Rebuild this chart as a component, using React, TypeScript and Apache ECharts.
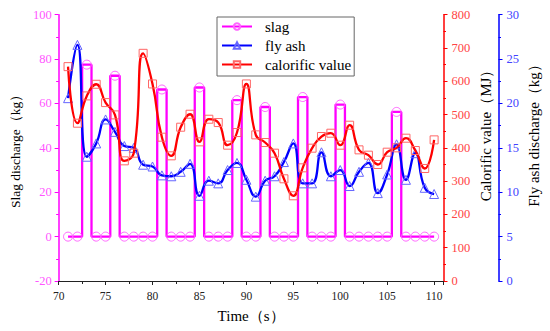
import React, { useEffect, useRef } from "react";
import * as echarts from "echarts";

const seconds = [71, 72, 73, 74, 75, 76, 77, 78, 79, 80, 81, 82, 83, 84, 85, 86, 87, 88, 89, 90, 91, 92, 93, 94, 95, 96, 97, 98, 99, 100, 101, 102, 103, 104, 105, 106, 107, 108, 109, 110];
const slag = [0, 0, 77.5, 0, 0, 72.5, 0, 0, 0, 0, 66.3, 0, 0, 0, 67.2, 0, 0, 0, 61.5, 0, 0, 58.4, 0, 0, 0, 62.9, 0, 0, 0, 59.5, 0, 0, 0, 0, 0, 56.2, 0, 0, 0, 0];
const flyAsh = [20.6, 26.6, 14.0, 15.5, 18.2, 16.8, 15.2, 15.0, 13.1, 12.9, 11.9, 11.8, 12.3, 13.2, 9.6, 11.3, 11.0, 12.5, 13.3, 11.4, 9.5, 11.3, 11.8, 13.4, 15.5, 11.0, 11.0, 14.5, 11.8, 12.5, 10.7, 12.3, 13.3, 9.9, 12.0, 15.4, 11.4, 14.4, 10.5, 9.8];
const calorific = [644, 474, 556, 591, 536, 499, 361, 384, 684, 592, 432, 376, 462, 501, 418, 486, 476, 408, 446, 592, 439, 416, 384, 307, 256, 340, 399, 434, 444, 408, 468, 394, 378, 350, 387, 400, 429, 392, 338, 424];

const seriesNames = ["slag", "fly ash", "calorific value"];
const xTitle = "Time（s）";
const slagTitle = "Slag discharge（kg）";
const calTitle = "Calorific value（MJ）";
const ashTitle = "Fly ash discharge（kg）";

const SERIF = "Liberation Serif";

export default function App() {
  const ref = useRef<HTMLDivElement>(null);
  useEffect(() => {
    if (!ref.current) return;
    const chart = echarts.init(ref.current, undefined, { renderer: "svg" });
    const pairs = (ys: number[]) => seconds.map((x, i) => [x, ys[i]]);
    chart.setOption({
      animation: false,
      backgroundColor: "#ffffff",
      textStyle: { fontFamily: SERIF },
      grid: { left: 46.5, right: 106.5, top: 14.7, bottom: 50 },
      legend: {
        orient: "vertical",
        left: 217,
        top: 17,
        padding: [2, 3, 4, 4],
        itemWidth: 30,
        itemHeight: 8,
        itemGap: 4,
        borderColor: "#666666",
        borderWidth: 1,
        textStyle: { fontFamily: SERIF, fontSize: 15, color: "#000", padding: [0, 0, 0, 8], lineHeight: 14 },
        data: seriesNames,
      },
      xAxis: {
        type: "value",
        min: 70,
        max: 111,
        interval: 5,
        name: xTitle,
        nameLocation: "middle",
        nameGap: 27,
        nameTextStyle: { fontFamily: SERIF, fontSize: 15, color: "#000" },
        axisLine: { onZero: false, lineStyle: { color: "#222", width: 1.2 } },
        axisTick: { length: 4, lineStyle: { color: "#222" } },
        minorTick: { show: true, splitNumber: 2, length: 3, lineStyle: { color: "#222" } },
        splitLine: { show: false },
        axisLabel: {
          fontFamily: SERIF,
          fontSize: 11.5,
          color: "#222",
          margin: 9,
          showMaxLabel: false,
          formatter: (v: number) => (v % 5 === 0 ? String(v) : ""),
        },
      },
      yAxis: [
        {
          type: "value",
          min: -20,
          max: 100,
          interval: 20,
          position: "left",
          name: slagTitle,
          nameLocation: "middle",
          nameGap: 27,
          nameRotate: 90,
          nameTextStyle: { fontFamily: SERIF, fontSize: 13.5, color: "#000" },
          axisLine: { show: true, lineStyle: { color: "#ff00ff", width: 1.5 } },
          axisTick: { show: true, length: 4, lineStyle: { color: "#ff00ff" } },
          minorTick: { show: true, splitNumber: 2, length: 2.5, lineStyle: { color: "#ff00ff" } },
          splitLine: { show: false },
          axisLabel: { fontFamily: SERIF, fontSize: 12.5, color: "#ff55ff", margin: 7 },
        },
        {
          type: "value",
          min: 0,
          max: 800,
          interval: 100,
          position: "right",
          offset: 0,
          axisLine: { show: true, lineStyle: { color: "#ff0000", width: 1.5 } },
          axisTick: { show: true, length: 4, lineStyle: { color: "#ff0000" } },
          minorTick: { show: true, splitNumber: 2, length: 2.5, lineStyle: { color: "#ff0000" } },
          splitLine: { show: false },
          axisLabel: { fontFamily: SERIF, fontSize: 12.5, color: "#ff4444", margin: 8 },
        },
        {
          type: "value",
          min: 0,
          max: 30,
          interval: 5,
          position: "right",
          offset: 55,
          axisLine: { show: true, lineStyle: { color: "#0000ff", width: 1.5 } },
          axisTick: { show: true, length: 4, lineStyle: { color: "#0000ff" } },
          minorTick: { show: true, splitNumber: 2, length: 2.5, lineStyle: { color: "#0000ff" } },
          splitLine: { show: false },
          axisLabel: { fontFamily: SERIF, fontSize: 12.5, color: "#4444ff", margin: 8 },
        },
      ],
      graphic: [
        {
          type: "text",
          x: 486,
          y: 132,
          rotation: Math.PI / 2,
          style: { text: calTitle, align: "center", verticalAlign: "middle", fontFamily: SERIF, fontSize: 15, fill: "#000" },
        },
        {
          type: "text",
          x: 533.5,
          y: 132,
          rotation: Math.PI / 2,
          style: { text: ashTitle, align: "center", verticalAlign: "middle", fontFamily: SERIF, fontSize: 15, fill: "#000" },
        },
      ],
      series: [
        {
          name: seriesNames[0],
          type: "line",
          step: "middle",
          yAxisIndex: 0,
          data: pairs(slag),
          color: "#ff00ff",
          lineStyle: { color: "#ff00ff", width: 2.3 },
          symbol: "circle",
          symbolSize: 9,
          itemStyle: { color: "rgba(255,255,255,0)", borderColor: "#ff66ff", borderWidth: 1 },
          z: 2,
        },
        {
          name: seriesNames[1],
          type: "line",
          smooth: 0.5,
          yAxisIndex: 2,
          data: pairs(flyAsh),
          color: "#0000ff",
          lineStyle: { color: "#0000ff", width: 2.3 },
          symbol: "triangle",
          symbolSize: 9,
          itemStyle: { color: "rgba(255,255,255,0)", borderColor: "#6666ff", borderWidth: 1 },
          z: 3,
        },
        {
          name: seriesNames[2],
          type: "line",
          smooth: 0.5,
          yAxisIndex: 1,
          data: pairs(calorific),
          color: "#ff0000",
          lineStyle: { color: "#ff0000", width: 2.3 },
          symbol: "rect",
          symbolSize: 8,
          itemStyle: { color: "rgba(255,255,255,0)", borderColor: "#ff6666", borderWidth: 1 },
          z: 4,
        },
      ],
    });
    return () => chart.dispose();
  }, []);
  return <div ref={ref} style={{ position: "fixed", left: 0, top: 0, width: 550, height: 331 }} />;
}
